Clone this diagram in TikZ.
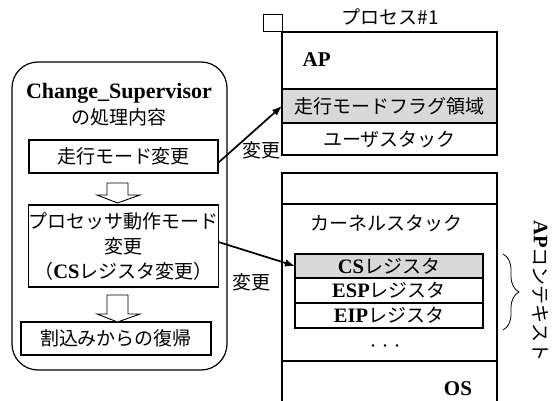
\documentclass[tikz,border=0pt]{standalone}
\usepackage{fontspec}
\setmainfont{Liberation Serif}
\newfontfamily\jp{Noto Sans CJK JP}
\usetikzlibrary{arrows.meta,decorations.pathreplacing,calc}
\definecolor{rowgray}{RGB}{217,217,217}
\newcommand\lbf[1]{{\rmfamily\bfseries\fontsize{20.5}{20.5}\selectfont #1}}
\begin{document}
\begin{tikzpicture}[x=1pt,y=-1pt,line width=1.2pt,
  box/.style={draw,rectangle,inner sep=0pt,outer sep=0pt},
  jt/.style={font=\jp\fontsize{19}{25}\selectfont},
  lt/.style={font=\rmfamily\bfseries\fontsize{21}{21}\selectfont},
  arr/.style={-{Latex[length=10pt,width=7.5pt]},line width=1.7pt},
  blockarrow/.style={draw,line width=0.9pt,fill=white}]
\useasboundingbox (0,0) rectangle (555,401);

% left: Change_Supervisor
\node[draw,rounded corners=26pt,minimum width=215pt,minimum height=308pt,inner sep=0pt] (outer) at (119.5,216) {};
\node[font=\rmfamily\bfseries\fontsize{22}{24}\selectfont] (title) at (119,93) {Change\_Supervisor};
\node[jt] (title2) at (119,117) {の処理内容};
\node[box,jt,minimum width=189pt,minimum height=33pt] (box1) at (123.5,156.5) {走行モード変更};
\node[box,jt,minimum width=189pt,minimum height=82pt,align=center] (box2) at (123.5,246) {プロセッサ動作モード\\変更\\（\lbf{CS}レジスタ変更）};
\node[box,jt,minimum width=190pt,minimum height=33pt] (box3) at (116,338.5) {割込みからの復帰};
\draw[blockarrow] (107,183) -- (128,183) -- (128,195) -- (140,195) -- (117.5,203) -- (97,195) -- (107,195) -- cycle;
\draw[blockarrow] (107,295) -- (128,295) -- (128,314) -- (140,314) -- (117.5,322) -- (97,314) -- (107,314) -- cycle;

% process #1
\node[jt] (proclbl) at (390,17) {プロセス\#1};
\draw[line width=1pt] (263,15) rectangle (282,32);
\node[box,minimum width=215pt,minimum height=57pt] (ap) at (389.5,60.5) {};
\node[lt,anchor=west,inner sep=0pt] (aplbl) at (302,60) {AP};
\node[box,jt,fill=rowgray,minimum width=215pt,minimum height=34pt] (flag) at (389.5,106) {走行モードフラグ領域};
\node[box,jt,minimum width=215pt,minimum height=32pt] (user) at (389.5,139) {ユーザスタック};

% kernel / OS
\draw (282,401) -- (282,173) -- (497,173) -- (497,401);
\draw (282,204) -- (497,204);
\draw (282,361) -- (497,361);
\node[jt] (kstack) at (386,223) {カーネルスタック};
\node[box,jt,fill=rowgray,minimum width=188pt,minimum height=24pt] (cs) at (389,266) {\lbf{CS}レジスタ};
\node[box,jt,minimum width=188pt,minimum height=25pt] (esp) at (389,290.5) {\lbf{ESP}レジスタ};
\node[box,jt,minimum width=188pt,minimum height=25pt] (eip) at (389,315.5) {\lbf{EIP}レジスタ};
\node[font=\jp\fontsize{12}{12}\selectfont] (dots) at (385,348) {・・・};
\node[lt] (os) at (458,389) {OS};

% brace and vertical label
\draw[decorate,decoration={brace,amplitude=16pt},line width=0.8pt] (503,254) -- (503,330);
\node[jt,rotate=-90] (apctx) at (541,291) {\lbf{AP}コンテキスト};

% connectors
\draw[arr] ([yshift=10pt]box1.south east) -- (flag.west);
\draw[arr] ([yshift=4pt]box2.east) -- (cs.west);
\node[jt] (chg1) at (261,150) {変更};
\node[jt] (chg2) at (251,282) {変更};
\end{tikzpicture}
\end{document}
